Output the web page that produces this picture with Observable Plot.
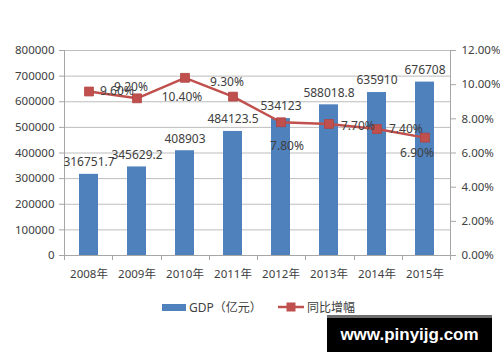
<!DOCTYPE html>
<html>
<head>
<meta charset="utf-8">
<script src="https://cdn.jsdelivr.net/npm/d3@7"></script>
<script src="https://cdn.jsdelivr.net/npm/@observablehq/plot@0.6"></script>
<style>
  html, body { margin: 0; padding: 0; background: #fff; }
  #wrap { position: relative; width: 500px; height: 362px; overflow: hidden; font-family: "Noto Sans", "Noto Sans CJK SC", sans-serif; }
  #legend { position: absolute; left: 0; top: 298px; width: 500px; height: 18px; font-size: 12px; color: #404040; }
  .lg { position: absolute; top: 0; display: flex; align-items: center; height: 18px; }
  #wm { position: absolute; left: 327px; top: 315px; width: 165px; height: 37px; background: #000; border-top: 3px solid #6e6e6e; box-sizing: border-box; color: #fff; font: bold 17px "Liberation Sans", Arial, sans-serif; display: flex; align-items: center; justify-content: center; }
</style>
</head>
<body>
<div id="wrap">
  <div id="chart"></div>
  <div id="legend"></div>
  <div id="wm">www.pinyijg.com</div>
</div>
<script>
const years = ["2008年", "2009年", "2010年", "2011年", "2012年", "2013年", "2014年", "2015年"];
const gdp = [316751.7, 345629.2, 408903, 484123.5, 534123, 588018.8, 635910, 676708];
const gdpLabels = ["316751.7", "345629.2", "408903", "484123.5", "534123", "588018.8", "635910", "676708"];
const growth = [9.6, 9.2, 10.4, 9.3, 7.8, 7.7, 7.4, 6.9];
const growthLabels = ["9.60%", "9.20%", "10.40%", "9.30%", "7.80%", "7.70%", "7.40%", "6.90%"];
const leftTicks = [0, 100000, 200000, 300000, 400000, 500000, 600000, 700000, 800000];
const rightTicks = [0, 2, 4, 6, 8, 10, 12];
const seriesNames = ["GDP（亿元）", "同比增幅"];

const BLUE = "#4F81BD", RED = "#C0504D", GRID = "#BDBDBD", AXIS = "#A6A6A6", TXT = "#404040";
const yMax = 800000, pMax = 12, k = yMax / pMax;

const rows = years.map((y, i) => ({year: y, gdp: gdp[i], gl: gdpLabels[i], g: growth[i] * k, pl: growthLabels[i]}));

// label placement for the growth labels (style only)
const place = [
  [11, 0, "start"], [-6, -11, "middle"], [-3, 19, "middle"], [-6, -14, "middle"],
  [6, 24, "middle"], [12, 2, "start"], [12, 0, "start"], [-8, 16, "middle"]
];

const frameLines = (index, scales, values, dim) => {
  const g = d3.create("svg:g");
  const l = dim.marginLeft, r = dim.width - dim.marginRight, t = dim.marginTop, b = dim.height - dim.marginBottom;
  g.append("line").attr("x1", l + 0.5).attr("x2", l + 0.5).attr("y1", t).attr("y2", b).attr("stroke", AXIS);
  g.append("line").attr("x1", r + 0.5).attr("x2", r + 0.5).attr("y1", t).attr("y2", b).attr("stroke", AXIS);
  g.append("line").attr("x1", l).attr("x2", r).attr("y1", b + 0.5).attr("y2", b + 0.5).attr("stroke", AXIS);
  const n = years.length, step = (r - l) / n;
  for (let i = 0; i <= n; i++) {
    const x = Math.round(l + i * step) + 0.5;
    g.append("line").attr("x1", x).attr("x2", x).attr("y1", b).attr("y2", b + 5).attr("stroke", AXIS);
  }
  return g.node();
};

const chart = Plot.plot({
  width: 500,
  height: 290,
  marginLeft: 64,
  marginRight: 50,
  marginTop: 50,
  marginBottom: 35,
  style: {fontFamily: '"Noto Sans", "Noto Sans CJK SC", sans-serif', fontSize: "11.5px", color: TXT, background: "transparent"},
  x: {domain: years, paddingInner: 0.6, paddingOuter: 0.3, label: null},
  y: {domain: [0, yMax], label: null},
  marks: [
    Plot.gridY(leftTicks, {stroke: GRID, strokeOpacity: 1}),
    Plot.axisY(leftTicks, {anchor: "left", tickSize: 5, tickPadding: 5, stroke: AXIS, fill: TXT, label: null, tickFormat: d => String(d)}),
    Plot.axisY(rightTicks.map(v => v * k), {anchor: "right", tickSize: 5, tickPadding: 6, stroke: AXIS, fill: TXT, label: null, tickFormat: d => (d / k).toFixed(2) + "%"}),
    Plot.axisX({tickSize: 0, tickPadding: 14, fill: TXT, label: null}),
    frameLines,
    Plot.barY(rows, {x: "year", y: "gdp", fill: BLUE}),
    Plot.text(rows, {x: "year", y: "gdp", text: "gl", dy: -12, fill: TXT, fontSize: 12}),
    Plot.line(rows, {x: "year", y: "g", stroke: RED, strokeWidth: 2.5}),
    Plot.dot(rows, {x: "year", y: "g", symbol: "square", r: 5, fill: RED, stroke: "#B04340", strokeWidth: 0.8}),
    ...rows.map((d, i) => Plot.text([d], {x: "year", y: "g", text: "pl", dx: place[i][0], dy: place[i][1], textAnchor: place[i][2], fill: TXT, fontSize: 12}))
  ]
});
document.getElementById("chart").appendChild(chart);

// legend
const legend = d3.select("#legend");
const a = legend.append("div").attr("class", "lg").style("left", "162px");
a.append("span").style("display", "inline-block").style("width", "24px").style("height", "7px").style("background", BLUE).style("margin-right", "3px");
a.append("span").text(seriesNames[0]);
const b = legend.append("div").attr("class", "lg").style("left", "278px");
const sw = b.append("svg").attr("width", 26).attr("height", 12).style("margin-right", "3px");
sw.append("line").attr("x1", 0).attr("x2", 26).attr("y1", 6).attr("y2", 6).attr("stroke", RED).attr("stroke-width", 2.5);
sw.append("rect").attr("x", 8.5).attr("y", 1.5).attr("width", 9).attr("height", 9).attr("fill", RED);
b.append("span").text(seriesNames[1]);
</script>
</body>
</html>
